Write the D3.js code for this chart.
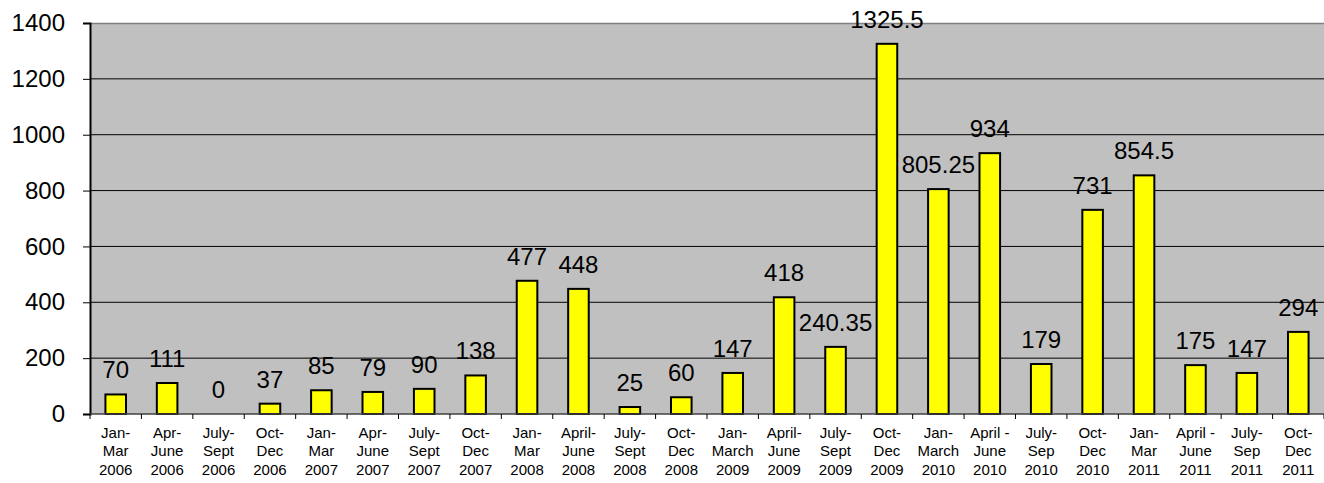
<!DOCTYPE html>
<html>
<head>
<meta charset="utf-8">
<script src="https://cdn.jsdelivr.net/npm/d3@7"></script>
<style>
  body { margin: 0; background: #fff; }
  svg { display: block; font-family: Arial, "Liberation Sans", sans-serif; }
</style>
</head>
<body>
<script>
// quarters, three label lines each
var periods = ["Jan-", "Apr-", "July-", "Oct-", "Jan-", "Apr-", "July-", "Oct-",
               "Jan-", "April-", "July-", "Oct-", "Jan-", "April-", "July-", "Oct-",
               "Jan-", "April -", "July-", "Oct-", "Jan-", "April -", "July-", "Oct-"];
var months = ["Mar", "June", "Sept", "Dec", "Mar", "June", "Sept", "Dec",
              "Mar", "June", "Sept", "Dec", "March", "June", "Sept", "Dec",
              "March", "June", "Sep", "Dec", "Mar", "June", "Sep", "Dec"];
var years = ["2006", "2006", "2006", "2006", "2007", "2007", "2007", "2007",
             "2008", "2008", "2008", "2008", "2009", "2009", "2009", "2009",
             "2010", "2010", "2010", "2010", "2011", "2011", "2011", "2011"];
var values = [70, 111, 0, 37, 85, 79, 90, 138, 477, 448, 25, 60,
              147, 418, 240.35, 1325.5, 805.25, 934, 179, 731, 854.5, 175, 147, 294];
var yTicks = [0, 200, 400, 600, 800, 1000, 1200, 1400];

var svgWidth = 1324, svgHeight = 483;
var margin = {top: 23, right: 0, bottom: 69, left: 90};
var width = svgWidth - margin.left - margin.right,
    height = svgHeight - margin.top - margin.bottom;

var svg = d3.select("body").append("svg")
    .attr("width", svgWidth)
    .attr("height", svgHeight);

var g = svg.append("g")
    .attr("transform", "translate(" + margin.left + "," + margin.top + ")");

var idx = d3.range(values.length);

var xScale = d3.scaleBand()
    .domain(idx)
    .range([0, width])
    .paddingInner(0.6)
    .paddingOuter(0.3);
var step = width / values.length;

var yScale = d3.scaleLinear()
    .domain([0, 1400])
    .range([height, 0]);

// plot background
g.append("rect")
    .attr("width", width)
    .attr("height", height)
    .attr("fill", "#c0c0c0");

// grid lines
g.selectAll(".grid")
    .data(yTicks.filter(function(d){ return d > 0 && d < 1400; }))
    .enter().append("line")
    .attr("x1", 0).attr("x2", width)
    .attr("y1", function(d){ return yScale(d); })
    .attr("y2", function(d){ return yScale(d); })
    .attr("stroke", "#000")
    .attr("stroke-width", 1);

// top border
g.append("line")
    .attr("x1", 0).attr("x2", width)
    .attr("y1", 0.5).attr("y2", 0.5)
    .attr("stroke", "#808080")
    .attr("stroke-width", 1.5);

// bars
g.selectAll(".bar")
    .data(values)
    .enter().append("rect")
    .attr("x", function(d, i){ return xScale(i); })
    .attr("y", function(d){ return yScale(d); })
    .attr("width", xScale.bandwidth())
    .attr("height", function(d){ return height - yScale(d); })
    .attr("fill", "#ffff00")
    .attr("stroke", "#000")
    .attr("stroke-width", 2);

// value labels
g.selectAll(".val")
    .data(values)
    .enter().append("text")
    .attr("x", function(d, i){ return xScale(i) + xScale.bandwidth() / 2; })
    .attr("y", function(d){ return yScale(d) - 16; })
    .attr("text-anchor", "middle")
    .attr("font-size", "24px")
    .attr("fill", "#000")
    .text(function(d){ return d; });

// y axis
var yAxis = g.append("g")
    .call(d3.axisLeft(yScale).tickValues(yTicks).tickFormat(d3.format("d"))
        .tickSize(7).tickPadding(18));
yAxis.select(".domain").attr("stroke", "#000").attr("stroke-width", 2);
yAxis.selectAll(".tick line").attr("stroke", "#000");
yAxis.selectAll("text")
    .attr("font-size", "24px")
    .attr("font-family", "Arial, 'Liberation Sans', sans-serif")
    .attr("fill", "#000");

// x axis: ticks at category boundaries
var xAxisG = g.append("g")
    .attr("transform", "translate(0," + height + ")");
xAxisG.append("line")
    .attr("x1", 0).attr("x2", width)
    .attr("y1", 0).attr("y2", 0)
    .attr("stroke", "#404040")
    .attr("stroke-width", 1.5);
xAxisG.selectAll(".xt")
    .data(d3.range(values.length + 1))
    .enter().append("line")
    .attr("x1", function(d){ return d * step; })
    .attr("x2", function(d){ return d * step; })
    .attr("y1", 0).attr("y2", 5)
    .attr("stroke", "#000");

var labels = xAxisG.selectAll(".xl")
    .data(idx)
    .enter().append("text")
    .attr("text-anchor", "middle")
    .attr("font-size", "15px")
    .attr("fill", "#000")
    .attr("transform", function(i){
        return "translate(" + (xScale(i) + xScale.bandwidth() / 2) + ",0)";
    });
labels.append("tspan").attr("x", 0).attr("y", 24).text(function(i){ return periods[i]; });
labels.append("tspan").attr("x", 0).attr("y", 42).text(function(i){ return months[i]; });
labels.append("tspan").attr("x", 0).attr("y", 61).text(function(i){ return years[i]; });
</script>
</body>
</html>
